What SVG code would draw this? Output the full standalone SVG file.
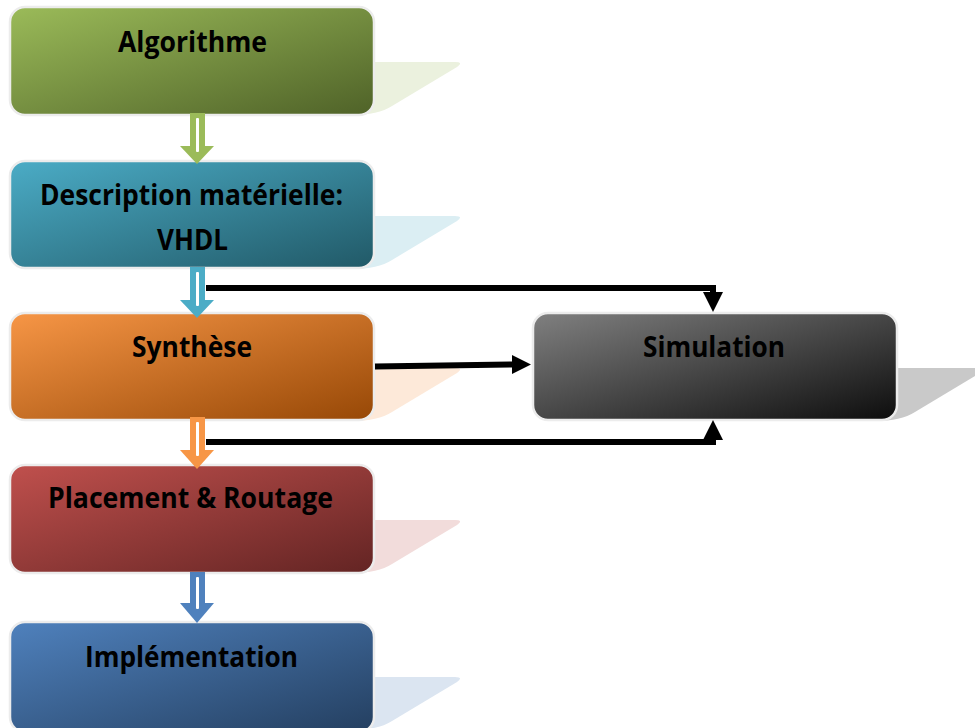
<svg xmlns="http://www.w3.org/2000/svg" width="975" height="728" viewBox="0 0 975 728">
<style>
.box{stroke:#ececec;stroke-width:2.5}
.lbl{font-family:"Open Sans","Liberation Sans",sans-serif;font-weight:700;font-size:28px;fill:#000;text-anchor:middle}
.conn{fill:none;stroke:#000;stroke-width:6;stroke-linejoin:miter}
.head{fill:#000}
.stripe{fill:#fff}
</style>
<defs>
<linearGradient id="gGreen" x1="0" y1="0" x2="1" y2="1"><stop offset="0" stop-color="#9bbb59"/><stop offset="1" stop-color="#4f6228"/></linearGradient>
<linearGradient id="gTeal" x1="0" y1="0" x2="1" y2="1"><stop offset="0" stop-color="#4bacc6"/><stop offset="1" stop-color="#215967"/></linearGradient>
<linearGradient id="gOrange" x1="0" y1="0" x2="1" y2="1"><stop offset="0" stop-color="#f79646"/><stop offset="1" stop-color="#974806"/></linearGradient>
<linearGradient id="gRed" x1="0" y1="0" x2="1" y2="1"><stop offset="0" stop-color="#c0504d"/><stop offset="1" stop-color="#632423"/></linearGradient>
<linearGradient id="gBlue" x1="0" y1="0" x2="1" y2="1"><stop offset="0" stop-color="#4f81bd"/><stop offset="1" stop-color="#243f60"/></linearGradient>
<linearGradient id="gGray" x1="0" y1="0" x2="1" y2="1"><stop offset="0" stop-color="#808080"/><stop offset="1" stop-color="#0d0d0d"/></linearGradient>
<path id="shadow" d="M364,55 L455,55 Q464,55 457,60 L392,99 Q378,108 352,108 Z"/>
</defs>

<g id="algorithme">
<use href="#shadow" transform="translate(0,7)" fill="#ebf1de"/>
<rect class="box" x="10" y="7" width="364" height="108" rx="15" fill="url(#gGreen)"/>
<text class="lbl" x="192.5" y="52" textLength="149" lengthAdjust="spacingAndGlyphs">Algorithme</text>
</g>

<g id="description">
<use href="#shadow" transform="translate(0,161)" fill="#dbeef3"/>
<rect class="box" x="10" y="161" width="364" height="107" rx="15" fill="url(#gTeal)"/>
<text class="lbl" x="191.5" y="205" textLength="303" lengthAdjust="spacingAndGlyphs">Description matérielle:</text>
<text class="lbl" x="192.5" y="250" textLength="71" lengthAdjust="spacingAndGlyphs">VHDL</text>
</g>

<g id="synthese">
<use href="#shadow" transform="translate(0,313)" fill="#fde9d9"/>
<rect class="box" x="10" y="313" width="364" height="107" rx="15" fill="url(#gOrange)"/>
<text class="lbl" x="192" y="357" textLength="120" lengthAdjust="spacingAndGlyphs">Synthèse</text>
</g>

<g id="placement">
<use href="#shadow" transform="translate(0,465)" fill="#f2dcdb"/>
<rect class="box" x="10" y="465" width="364" height="108" rx="15" fill="url(#gRed)"/>
<text class="lbl" x="190.5" y="508" textLength="285" lengthAdjust="spacingAndGlyphs">Placement &amp; Routage</text>
</g>

<g id="implementation">
<use href="#shadow" transform="translate(0,622)" fill="#dbe5f1"/>
<rect class="box" x="10" y="622" width="364" height="110" rx="15" fill="url(#gBlue)"/>
<text class="lbl" x="191.5" y="667" textLength="213" lengthAdjust="spacingAndGlyphs">Implémentation</text>
</g>

<g id="simulation">
<use href="#shadow" transform="translate(523,313)" fill="#c9c9c9"/>
<rect class="box" x="533" y="313" width="364" height="107" rx="15" fill="url(#gGray)"/>
<text class="lbl" x="714" y="357" textLength="142" lengthAdjust="spacingAndGlyphs">Simulation</text>
</g>

<g id="connectors">
<g id="down1" fill="#9bbb59">
<rect x="190" y="113" width="15" height="34"/>
<polygon points="180,146 214,146 197,164"/>
<rect class="stripe" x="196" y="118" width="3" height="34" rx="1"/>
</g>
<g id="down2" fill="#4bacc6">
<rect x="190" y="267" width="15" height="34"/>
<polygon points="180,300 214,300 197,318"/>
<rect class="stripe" x="196" y="272" width="3" height="34" rx="1"/>
</g>
<g id="down3" fill="#f79646">
<rect x="190" y="417" width="15" height="34"/>
<polygon points="180,450 214,450 197,469"/>
<rect class="stripe" x="196" y="422" width="3" height="34" rx="1"/>
</g>
<g id="down4" fill="#4f81bd">
<rect x="190" y="572" width="15" height="32"/>
<polygon points="180,603 214,603 197,623"/>
<rect class="stripe" x="196" y="577" width="3" height="32" rx="1"/>
</g>
<path class="conn" d="M206,288 H713 V295"/>
<polygon class="head" points="703,292 723,292 713,312"/>
<path class="conn" d="M375,366.5 L514,364.5"/>
<polygon class="head" points="512,355 531,364.5 512,374"/>
<path class="conn" d="M206,442 H713 V436"/>
<polygon class="head" points="703,440 723,440 713,420"/>
</g>
</svg>
